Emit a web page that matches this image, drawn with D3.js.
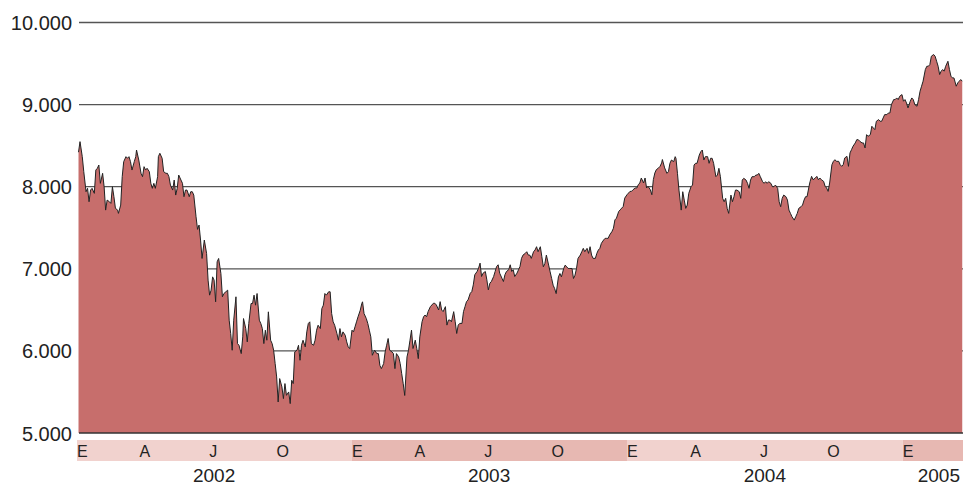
<!DOCTYPE html>
<head>
    <meta charset="utf-8">
    <script src="https://d3js.org/d3.v7.min.js"></script>
    <style>
        *{
            margin:0;
            padding:0;
        }
        body{
            background: #fff;
            font-family: 'Liberation Sans', Arial, sans-serif;
        }
        svg{
            display: block;
        }
    </style>
</head>

<body>
<svg id="chart"></svg>

<script>
    // data: [days since 1 Jan 2002, index close]
    const startDate = new Date(2002, 0, 1);
    const endDate = new Date(2005, 2, 22);
    const yTicks = [5000, 6000, 7000, 8000, 9000, 10000];
    const years = [2002, 2003, 2004, 2005];
    const monthLabels = [[0, "E"], [3, "A"], [6, "J"], [9, "O"]];

    const series = [
        [2,8420],[4,8549],[7,8366],[9,8183],[12,7939],[14,7980],[16,7817],[18,7959],[20,7980],[23,7919],
        [25,8203],[27,8224],[29,8264],[31,8041],[34,8163],[36,8000],[38,7715],[40,7837],[43,7817],[45,7797],
        [47,8000],[49,7878],[51,7736],[54,7715],[55,7675],[58,7776],[60,8122],[62,8305],[65,8366],[67,8346],
        [69,8366],[71,8305],[73,8203],[76,8305],[78,8366],[79,8447],[82,8325],[85,8163],[87,8122],[89,8244],
        [91,8203],[93,8224],[96,8183],[98,8041],[100,7980],[102,8041],[104,7980],[107,8122],[108,8366],[110,8407],
        [113,8346],[115,8183],[118,8163],[120,8163],[122,8122],[124,8020],[127,7959],[129,8081],[131,7898],[133,7980],
        [135,8142],[138,8081],[140,8041],[142,7878],[144,7959],[146,7959],[149,7878],[151,7939],[153,7939],[155,7898],
        [158,7634],[160,7480],[162,7533],[164,7350],[166,7126],[169,7350],[172,7187],[174,6862],[176,6679],[178,6740],
        [180,6902],[182,6862],[184,6598],[186,7085],[188,7126],[191,6943],[193,6659],[195,6699],
        [200,6740],[202,6374],[204,6211],[206,6008],[208,6374],[211,6659],[213,6089],[215,6069],[218,5967],[220,6171],
        [221,6394],[224,6272],[226,6110],[228,6333],[231,6577],[233,6577],[235,6679],[237,6557],[239,6699],[242,6374],
        [244,6333],[246,6272],[248,6089],[250,6252],[252,6130],[254,6476],[257,6130],[259,6089],[261,6008],[263,5846],
        [265,5683],[267,5378],[269,5663],[272,5561],[274,5419],[276,5602],[278,5459],[281,5500],[283,5358],[285,5642],
        [287,5602],[289,5988],[292,6008],[294,6069],[296,5886],[298,6069],[300,6130],[303,6049],[305,6232],[307,6333],
        [309,6354],[311,6089],[314,6069],[316,6130],[318,6252],[320,6313],[323,6272],[325,6516],[327,6557],[329,6699],
        [331,6679],[334,6720],[336,6720],[338,6455],[340,6354],[342,6313],[345,6211],[347,6130],[349,6272],[351,6171],
        [353,6232],[356,6191],[358,6110],[360,6049],[362,6028],[365,6252],[367,6232],[369,6293],[371,6354],[373,6415],
        [376,6496],[378,6577],[379,6598],[381,6455],[384,6394],[386,6333],[388,6252],[390,6171],[392,5947],[395,6008],
        [398,5967],[400,5967],[402,5824],[404,5784],[407,5845],[409,5988],[411,6069],[413,6151],[415,6008],[418,5988],
        [420,5967],[422,5784],[424,5967],[427,5927],[429,5845],[431,5722],[433,5600],[435,5457],[438,5927],[440,6008],
        [442,6131],[444,6253],[446,6029],[449,6131],[451,6029],[453,5906],[455,6171],[458,6355],[460,6416],[462,6437],
        [464,6416],[466,6478],[469,6539],[471,6559],[473,6580],[475,6580],[477,6559],[480,6498],[482,6600],[484,6498],
        [486,6478],[489,6539],[491,6314],[493,6376],[495,6376],[497,6355],[500,6478],[502,6355],[504,6212],[506,6314],
        [508,6335],[511,6335],[513,6478],[515,6539],[517,6600],[519,6620],[522,6702],[524,6722],[526,6804],[528,6927],
        [531,6967],[533,7008],[535,7069],[537,6906],[539,6947],[542,6967],[544,6865],[546,6743],[548,6824],[550,6845],
        [553,6906],[555,6967],[557,7029],[559,7049],[561,6947],[564,6886],[566,6845],[568,6927],[570,6967],[573,6988],
        [575,7049],[577,6967],[579,6988],[581,6906],[584,6947],[586,6988],[588,7029],
        [590,7127],[592,7167],[595,7188],[597,7208],[599,7167],[601,7167],[603,7127],[606,7208],[608,7229],[610,7269],
        [612,7208],[615,7269],[617,7147],[619,7024],[621,7065],[623,7167],[626,7045],[628,6963],[630,6882],[632,6800],
        [634,6759],[636,6698],[639,6902],[641,6943],[643,6902],[646,7004],[648,7045],[650,7024],[652,7004],[654,7004],
        [657,7004],[659,6882],[661,6922],[663,7004],[665,7127],[668,7167],[670,7208],[672,7249],[674,7208],[677,7249],
        [679,7188],[681,7269],[683,7167],[685,7127],[688,7127],[690,7188],[692,7229],[694,7249],[696,7310],[699,7351],
        [701,7371],[703,7371],[705,7371],[707,7412],[710,7453],[712,7494],[714,7596],[716,7616],[719,7698],[721,7718],
        [723,7739],[725,7759],[727,7861],[730,7902],[732,7922],[734,7943],[736,7943],[738,7963],[741,7984],[743,7984],
        [745,8024],[747,8045],[749,8106],[752,8045],[754,8106],[756,7984],[758,8004],[761,7963],[763,7902],[765,8086],
        [767,8167],[769,8208],[772,8229],[774,8249],[776,8290],[777,8331],[780,8229],
        [783,8163],[785,8183],[787,8285],[789,8325],[792,8305],[794,8366],[795,8346],[797,8163],[799,7959],[802,7715],
        [804,7939],[806,7837],[808,7736],[810,7776],[812,7919],[815,8000],[817,8020],[819,8264],[821,8285],[823,8285],
        [826,8386],[828,8427],[830,8447],[832,8325],[834,8366],[837,8366],[839,8285],[841,8346],[843,8346],[845,8285],
        [848,8122],[850,8142],[852,8224],[854,8122],[857,7858],[859,7817],[861,7858],[863,7736],[865,7675],[868,7898],
        [870,7817],[872,7878],[874,7959],[876,7959],[879,7939],[881,7858],[883,8081],[885,8102],[888,8081],[890,8041],
        [892,7980],[894,8081],[896,8122],[899,8122],[901,8142],[903,8142],[905,8163],[907,8122],[910,8061],[912,8041],
        [914,8061],[916,8041],[918,8061],[921,8041],[923,8000],[925,8000],[927,8020],[930,7980],[932,7817],[934,7756],
        [936,7858],[938,7898],[941,7878],[943,7837],[945,7715],[947,7675],[949,7634],[952,7593],[954,7634],[956,7675],
        [958,7736],[961,7756],[963,7776],[965,7837],[967,7878],[969,7878],[972,8020],[973,8061],
        [975,8126],[977,8085],[980,8106],[982,8126],[984,8085],[986,8106],[988,8085],[991,8065],[993,8004],[995,7984],
        [997,7943],[999,8045],[1002,8268],[1004,8309],[1006,8329],[1008,8309],[1011,8309],[1013,8268],[1015,8248],[1017,8268],
        [1019,8350],[1022,8370],[1024,8248],[1026,8411],[1028,8451],[1030,8492],[1033,8533],[1035,8573],[1037,8573],[1039,8553],
        [1042,8533],[1044,8533],[1046,8472],[1048,8634],[1050,8614],[1053,8634],[1055,8736],[1057,8715],[1059,8695],[1061,8797],
        [1064,8817],[1066,8797],[1068,8797],[1070,8837],[1072,8878],[1075,8878],[1077,8898],[1079,8898],[1081,9000],[1084,9061],
        [1086,9061],[1088,9081],[1090,9061],[1092,9102],[1095,9122],[1097,9041],[1099,9061],[1101,9020],[1103,8959],[1106,9041],
        [1108,9081],[1110,9061],[1112,9000],[1115,8980],[1117,9061],[1119,9163],[1121,9224],[1123,9285],[1126,9427],[1128,9467],
        [1130,9467],[1132,9488],[1134,9589],[1137,9610],[1139,9589],[1141,9528],[1143,9467],[1145,9366],[1147,9407],[1149,9427],
        [1151,9407],[1153,9467],[1156,9528],[1158,9427],[1160,9346],[1162,9325],[1164,9325],[1167,9224],[1169,9264],[1171,9285],
        [1173,9305],[1175,9285]
    ];

    const width = 963, height = 486;
    const svg = d3.select("#chart")
        .attr("width", width)
        .attr("height", height);

    const x = d3.scaleTime()
        .domain([startDate, endDate])
        .range([77, 963]);
    const y = d3.scaleLinear()
        .domain([5000, 10000])
        .range([433, 22.5]);

    const fmt = d3.formatLocale({decimal: ",", thousands: ".", grouping: [3], currency: ["", "€"]}).format(",");
    const date = d => d3.timeDay.offset(startDate, d[0]);

    // gridlines behind the area
    svg.append("g")
        .selectAll("line")
        .data(yTicks.slice(1))
        .join("line")
        .attr("x1", 79)
        .attr("x2", width)
        .attr("y1", d => y(d))
        .attr("y2", d => y(d))
        .attr("stroke", "#555")
        .attr("stroke-width", 1.3);

    svg.append("g")
        .selectAll("text")
        .data(yTicks)
        .join("text")
        .attr("x", 72)
        .attr("y", d => y(d) + 7.5)
        .attr("text-anchor", "end")
        .attr("font-size", 20)
        .attr("fill", "#222")
        .text(d => fmt(d));

    // area + outline
    const area = d3.area()
        .x(d => x(date(d)))
        .y0(y(5000))
        .y1(d => y(d[1]));
    const line = d3.line()
        .x(d => x(date(d)))
        .y(d => y(d[1]));

    svg.append("path")
        .datum(series)
        .attr("d", area)
        .attr("fill", "#c76e6c");
    svg.append("path")
        .datum(series)
        .attr("d", line)
        .attr("fill", "none")
        .attr("stroke", "#222")
        .attr("stroke-width", 1)
        .attr("stroke-linejoin", "round");

    // baseline
    svg.append("line")
        .attr("x1", 79)
        .attr("x2", width)
        .attr("y1", y(5000))
        .attr("y2", y(5000))
        .attr("stroke", "#333")
        .attr("stroke-width", 1.5);

    // month band
    const band = svg.append("g");
    band.selectAll("rect")
        .data(years)
        .join("rect")
        .attr("x", d => x(new Date(d, 0, 1)))
        .attr("width", d => Math.min(x(new Date(d + 1, 0, 1)), width) - x(new Date(d, 0, 1)))
        .attr("y", 440)
        .attr("height", 21)
        .attr("fill", (d, i) => i % 2 ? "#e7b8b2" : "#f1d2ce");

    const months = [];
    years.forEach(yr => monthLabels.forEach(m => {
        const dt = new Date(yr, m[0], 1);
        if (dt < endDate) months.push({date: dt, label: m[1]});
    }));
    band.selectAll("text")
        .data(months)
        .join("text")
        .attr("x", d => x(d.date))
        .attr("y", 457)
        .attr("text-anchor", d => d.label == "E" ? "start" : "middle")
        .attr("font-size", 16)
        .attr("fill", "#222")
        .text(d => d.label);

    // year labels
    svg.append("g")
        .selectAll("text")
        .data(years)
        .join("text")
        .attr("x", d => d == 2005 ? 960 : x(new Date(d, 6, 2)))
        .attr("y", 482)
        .attr("text-anchor", d => d == 2005 ? "end" : "middle")
        .attr("font-size", 19)
        .attr("fill", "#222")
        .text(d => d);
</script>
</body>
</html>
